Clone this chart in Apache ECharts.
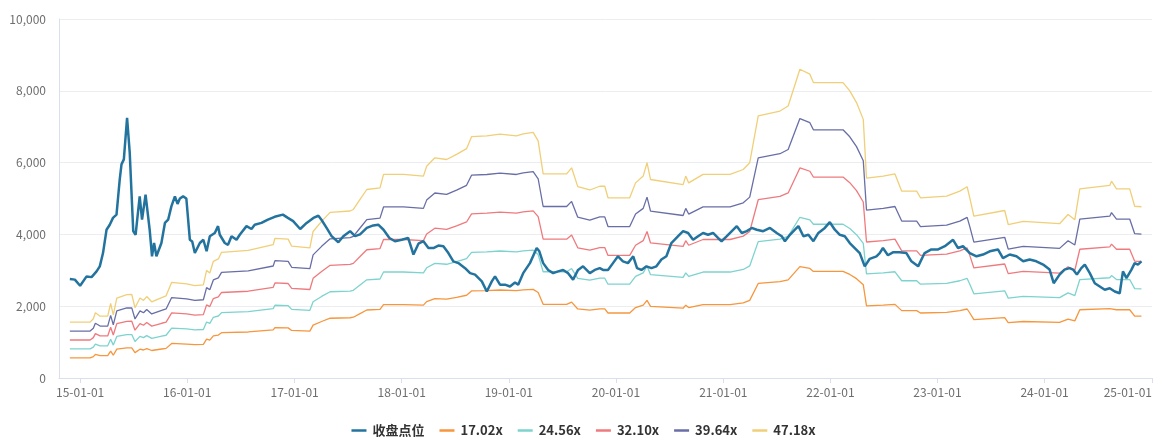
<!DOCTYPE html>
<html><head><meta charset="utf-8">
<script src="https://cdn.jsdelivr.net/npm/echarts@6/dist/echarts.min.js"></script>
<style>html,body{margin:0;padding:0;background:#fff}#c{width:1167px;height:437px}</style>
</head><body><div id="c"></div>
<script>
// ---- data ----
const closeDates = ['2014-11-27','2014-12-14','2015-01-01','2015-01-23','2015-02-09','2015-02-26','2015-03-09','2015-03-20','2015-04-01','2015-04-12','2015-04-23','2015-05-05','2015-05-16','2015-05-22','2015-05-30','2015-06-10','2015-06-19','2015-07-01','2015-07-09','2015-07-23','2015-07-31','2015-08-12','2015-08-26','2015-09-03','2015-09-10','2015-09-18','2015-10-05','2015-10-17','2015-10-28','2015-11-08','2015-11-20','2015-11-29','2015-12-07','2015-12-18','2015-12-29',
'2016-01-10','2016-01-18','2016-01-27','2016-02-13','2016-02-25','2016-03-07','2016-03-18','2016-04-04','2016-04-15','2016-04-21','2016-05-08','2016-05-19','2016-05-31','2016-06-17','2016-06-28','2016-07-21','2016-08-07','2016-08-18','2016-09-10','2016-10-02','2016-10-25','2016-11-22','2016-12-09','2016-12-27',
'2017-01-20','2017-02-11','2017-03-06','2017-03-23','2017-04-03','2017-04-20','2017-05-07','2017-05-30','2017-06-16','2017-07-09','2017-07-26','2017-08-12','2017-09-04','2017-09-26','2017-10-13','2017-10-31','2017-11-20','2017-12-09',
'2018-01-01','2018-01-23','2018-02-10','2018-02-27','2018-03-16','2018-04-02','2018-04-19','2018-05-06','2018-05-23','2018-06-09','2018-06-26','2018-07-13','2018-08-05','2018-08-22','2018-09-08','2018-10-01','2018-10-18','2018-11-04','2018-11-15','2018-12-02','2018-12-19',
'2019-01-05','2019-01-22','2019-02-02','2019-02-19','2019-03-14','2019-04-06','2019-04-15','2019-04-28','2019-05-15','2019-06-01','2019-06-18','2019-07-05','2019-07-22','2019-08-08','2019-08-25','2019-09-11','2019-10-04','2019-10-21','2019-11-07','2019-11-18','2019-12-05','2019-12-22',
'2020-01-08','2020-01-25','2020-02-11','2020-02-29','2020-03-13','2020-03-28','2020-04-14','2020-05-01','2020-05-18','2020-06-04','2020-06-21','2020-07-08','2020-07-31','2020-08-17','2020-09-03','2020-09-20','2020-10-07','2020-10-24','2020-11-10','2020-11-27','2020-12-14','2020-12-26',
'2021-01-13','2021-01-30','2021-02-16','2021-03-05','2021-03-22','2021-04-08','2021-04-25','2021-05-17','2021-06-09','2021-07-02','2021-07-19','2021-07-30','2021-08-16','2021-09-02','2021-09-14','2021-10-01','2021-10-18','2021-11-04','2021-11-21','2021-12-13','2021-12-30',
'2022-01-16','2022-02-02','2022-02-19','2022-03-08','2022-03-25','2022-04-11','2022-04-28','2022-05-15','2022-06-07','2022-06-18','2022-06-29','2022-07-16','2022-08-02','2022-08-25','2022-09-17','2022-10-04','2022-10-27','2022-11-18','2022-12-11',
'2023-01-03','2023-01-26','2023-02-23','2023-03-12','2023-03-29','2023-04-21','2023-05-14','2023-06-05','2023-06-28','2023-07-26','2023-08-12','2023-09-04','2023-09-27','2023-10-20','2023-11-11','2023-12-04','2023-12-27',
'2024-01-18','2024-02-01','2024-02-21','2024-03-09','2024-03-26','2024-04-07','2024-04-20','2024-05-05','2024-05-17','2024-06-03','2024-06-20','2024-07-07','2024-07-24','2024-08-10','2024-08-27','2024-09-13','2024-09-24','2024-10-06','2024-10-23','2024-11-03','2024-11-14','2024-11-26'];
const closeValues = [2757,2740,2570,2830,2810,2970,3110,3480,4130,4270,4460,4550,5530,5950,6090,7250,6280,4090,3990,5060,4410,5110,4130,3390,3760,3390,3760,4320,4410,4780,5060,4850,5000,5060,5000,
3850,3800,3480,3760,3850,3530,3950,4040,4230,3990,3760,3710,3950,3850,3990,4230,4150,4270,4320,4410,4490,4550,4460,4370,
4150,4320,4460,4520,4400,4180,3950,3780,3950,4090,3950,4000,4180,4250,4270,4130,3900,3810,
3850,3900,3440,3740,3810,3620,3620,3690,3670,3480,3250,3200,3060,2920,2880,2690,2410,2690,2830,2600,2600,
2550,2660,2600,2920,3200,3620,3530,3200,3010,2920,2970,3010,2920,2740,3010,3110,2920,3010,3060,3010,3010,3200,
3390,3250,3200,3390,3060,3010,3110,3060,3110,3300,3390,3760,3950,4090,4040,3850,3950,4040,3990,4040,3900,3810,
3950,4090,4230,4040,4090,4180,4130,4090,4180,4040,3950,3810,3990,4130,4230,3950,3990,3810,4040,4180,4340,
4130,3990,3950,3760,3620,3480,3110,3320,3390,3480,3620,3420,3500,3500,3480,3250,3110,3480,3580,
3580,3670,3850,3620,3670,3480,3390,3440,3530,3580,3340,3440,3390,3250,3300,3250,3160,
3020,2640,2880,3020,3060,3020,2880,3060,3160,2920,2640,2550,2460,2500,2410,2360,2970,2780,3020,3200,3160,3250];

// earnings per share behind the PE bands (band value = eps x multiple)
const epsDates = ['2014-11-27','2015-02-04','2015-02-15','2015-02-22','2015-03-10','2015-04-05','2015-04-15','2015-04-24','2015-05-06','2015-06-09','2015-06-26','2015-07-07','2015-07-24','2015-08-05','2015-08-16','2015-09-02','2015-10-06','2015-10-21','2015-11-09','2015-12-30',
'2016-01-27','2016-02-25','2016-03-07','2016-03-18','2016-03-30','2016-04-16','2016-04-27','2016-07-27','2016-10-20','2016-10-26','2016-12-10','2016-12-22',
'2017-02-22','2017-03-05','2017-04-03','2017-05-02','2017-07-09','2017-07-20','2017-08-12','2017-09-04','2017-10-19','2017-10-31',
'2018-01-07','2018-03-16','2018-03-27','2018-04-24','2018-06-03','2018-07-07','2018-08-10','2018-08-27','2018-10-18','2018-12-02',
'2019-01-27','2019-02-19','2019-03-25','2019-04-11','2019-04-28','2019-07-17','2019-08-03','2019-08-24','2019-10-04','2019-11-07','2019-11-24','2019-12-05',
'2020-02-17','2020-03-08','2020-04-03','2020-04-16','2020-04-28','2020-08-17','2020-08-26','2020-09-05','2020-10-24',
'2021-01-24','2021-03-10','2021-04-01','2021-04-30','2021-07-13','2021-08-10','2021-09-19','2021-10-23','2021-11-04',
'2022-02-13','2022-03-08','2022-03-31','2022-04-23','2022-05-04','2022-06-30','2022-08-09','2022-09-01','2022-10-22','2022-11-04',
'2023-02-01','2023-03-18','2023-04-12','2023-04-21','2023-05-05','2023-08-18','2023-08-30','2023-10-20',
'2024-02-21','2024-03-21','2024-04-13','2024-04-30','2024-08-10','2024-08-16','2024-09-02','2024-10-17','2024-11-03','2024-11-26'];
const epsValues = [33.0,33.0,35.0,38.5,36.5,36.5,44.0,37.3,47.2,49.2,49.3,41.5,47.2,45.8,48.1,45.0,47.5,48.5,56.5,55.6,
54.5,55.0,63.5,62.0,68.9,70.3,74.2,75.3,78.7,82.5,82.0,77.8,
76.8,86.5,92.5,97.8,98.6,99.5,105.4,111.3,112.3,120.2,
120.2,119.2,125.0,130.0,129.0,132.0,135.4,142.5,143.0,144.0,
143.0,144.1,145.0,140.0,120.5,120.5,124.1,113.0,111.0,113.2,113.2,106.4,
106.4,115.2,119.2,127.1,117.2,114.2,119.2,115.2,120.2,
120.2,123.1,127.1,154.7,157.6,160.6,182.3,179.4,174.4,
174.4,169.5,162.6,152.7,118.0,119.2,120.5,110.3,110.3,106.4,
107.4,110.3,112.9,106.4,95.5,98.9,90.6,92.5,
91.1,96.5,93.5,111.7,113.7,116.2,111.7,111.7,101.4,101.1];

const multiples = [17.02, 24.56, 32.10, 39.64, 47.18];
const bandNames = ['17.02x', '24.56x', '32.10x', '39.64x', '47.18x'];
const closeName = '收盘点位';
const tickDates = ['2015-01-01','2016-01-01','2017-01-01','2018-01-01','2019-01-01','2020-01-01','2021-01-01','2022-01-01','2023-01-01','2024-01-01','2025-01-01'];
const axisStart = '2014-10-21';
const axisEnd = '2025-01-01';

// ---- styles ----
const closeColor = '#23739f';
const bandColors = ['#f7963c', '#7dd3ce', '#ef7a7e', '#686ea6', '#f0cf78'];
const axisColor = '#d9dfec';
const labelColor = '#6e6e6e';

const ts = s => { const p = s.split('-').map(Number); return new Date(p[0], p[1] - 1, p[2]).getTime(); };
const tickTimes = tickDates.map(ts);
const pad = n => (n < 10 ? '0' : '') + n;
const fmt = v => { const d = new Date(v); return pad(d.getFullYear() % 100) + '-' + pad(d.getMonth() + 1) + '-' + pad(d.getDate()); };

const series = [{
  name: closeName, type: 'line', symbol: 'none',
  lineStyle: { width: 2.5, color: closeColor }, itemStyle: { color: closeColor }, z: 10,
  data: closeDates.map((d, i) => [ts(d), closeValues[i]])
}];
multiples.forEach((m, k) => {
  series.push({
    name: bandNames[k], type: 'line', symbol: 'none',
    lineStyle: { width: 1.3, color: bandColors[k] }, itemStyle: { color: bandColors[k] },
    data: epsDates.map((d, i) => [ts(d), Math.round(epsValues[i] * m)])
  });
});

const chart = echarts.init(document.getElementById('c'), null, { renderer: 'canvas' });
chart.setOption({
  animation: false,
  textStyle: { fontFamily: "'Noto Sans CJK SC', 'Noto Sans', sans-serif" },
  grid: { left: 59, right: 15, top: 19, bottom: 59, containLabel: false },
  legend: {
    data: [closeName].concat(bandNames), top: 419, left: 'center',
    icon: 'rect', itemWidth: 15, itemHeight: 2.5, itemGap: 15,
    textStyle: { color: '#333', fontSize: 13, fontWeight: 'bold', padding: [0, 0, 0, 1] }
  },
  xAxis: {
    type: 'value', min: ts(axisStart), max: ts(axisEnd), scale: true,
    axisLine: { show: true, lineStyle: { color: axisColor } },
    axisTick: { show: true, customValues: tickTimes, length: 5, lineStyle: { color: axisColor } },
    axisLabel: { customValues: tickTimes, formatter: fmt, color: labelColor, fontSize: 12, margin: 8, alignMaxLabel: 'right', showMaxLabel: true },
    splitLine: { show: false }
  },
  yAxis: {
    type: 'value', min: 0, max: 10000, interval: 2000,
    axisLine: { show: true, lineStyle: { color: axisColor } },
    axisTick: { show: false },
    axisLabel: { color: labelColor, fontSize: 12, margin: 13 },
    splitLine: { show: true, lineStyle: { color: '#ebedf0' } }
  },
  series: series
});
</script>
</body></html>
